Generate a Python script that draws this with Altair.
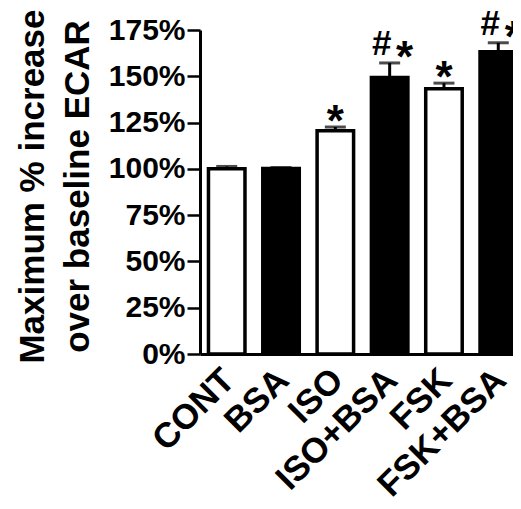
import altair as alt
import pandas as pd

categories = ["CONT", "BSA", "ISO", "ISO+BSA", "FSK", "FSK+BSA"]
means = [1.000, 1.002, 1.206, 1.494, 1.433, 1.633]
sems = [0.013, 0.005, 0.020, 0.078, 0.030, 0.048]
fills = ["white", "black", "white", "black", "white", "black"]
hash_marks = ["", "", "", "#", "", "#"]
star_marks = ["", "", "*", "*", "*", "*"]
y_ticks = [0, 0.25, 0.5, 0.75, 1.0, 1.25, 1.5, 1.75]
y_title = ["Maximum % increase", "over baseline ECAR"]

df = pd.DataFrame({
    "cat": categories,
    "mean": means,
    "sem": sems,
    "fill": fills,
    "hash": hash_marks,
    "star": star_marks,
})
df["upper"] = df["mean"] + df["sem"]

FONT = "Liberation Sans"

x = alt.X(
    "cat:N",
    sort=categories,
    scale=alt.Scale(range=[0, 325], paddingInner=0.328, paddingOuter=0.156),
    axis=alt.Axis(
        title=None, labelAngle=-45, labelAlign="right", labelBaseline="top",
        labelFontSize=35, labelFontWeight="bold", labelFont=FONT, labelColor="black",
        ticks=False, labelPadding=8, labelOffset=-10,
        domainColor="black", domainWidth=3, zindex=1,
    ),
)
y = alt.Y(
    "mean:Q",
    scale=alt.Scale(domain=[0, 1.75], nice=False, zero=True),
    axis=alt.Axis(
        values=y_ticks, format=".0%", grid=False,
        title=y_title, titleFont=FONT, titleFontSize=35, titleFontWeight="bold",
        titleColor="black", titleAngle=-90, titleX=-157, titleY=156,
        titleAlign="center", titleBaseline="alphabetic", titleLineHeight=45,
        labelFont=FONT, labelFontSize=30, labelFontWeight="bold", labelColor="black",
        labelPadding=2, tickSize=13, tickWidth=2.5, tickColor="black",
        domainColor="black", domainWidth=3, zindex=1,
    ),
)

base = alt.Chart(df)

rules = base.mark_rule(color="black", strokeWidth=3).encode(
    x=x, y=alt.Y("mean:Q"), y2="upper:Q"
)
bars = base.mark_bar(stroke="black", strokeWidth=3.5).encode(
    x=x, y=y, fill=alt.Fill("fill:N", scale=None)
)
caps = base.mark_tick(color="black", thickness=3, size=21).encode(
    x=x, y=alt.Y("upper:Q")
)
hash_text = base.transform_filter("datum.hash != ''").mark_text(
    font=FONT, fontSize=35, fontWeight="bold", baseline="alphabetic",
    dx=-8, dy=-8, color="black",
).encode(x=x, y=alt.Y("upper:Q"), text="hash:N")
star_solo = base.transform_filter("datum.star != '' && datum.hash == ''").mark_text(
    font=FONT, fontSize=44, fontWeight="bold", baseline="alphabetic",
    dx=0, dy=9, color="black",
).encode(x=x, y=alt.Y("upper:Q"), text="star:N")
star_pair = base.transform_filter("datum.star != '' && datum.hash != ''").mark_text(
    font=FONT, fontSize=44, fontWeight="bold", baseline="alphabetic",
    dx=15, dy=9, color="black",
).encode(x=x, y=alt.Y("upper:Q"), text="star:N")

chart = alt.layer(rules, bars, caps, hash_text, star_solo, star_pair).properties(
    width=313,
    height=324,
    autosize=alt.AutoSizeParams(type="none"),
    padding={"left": 192, "top": 22, "right": 0, "bottom": 147},
    background="white",
).configure_view(stroke=None)

chart.save("out.html", embed_options={"renderer": "svg", "actions": False})
